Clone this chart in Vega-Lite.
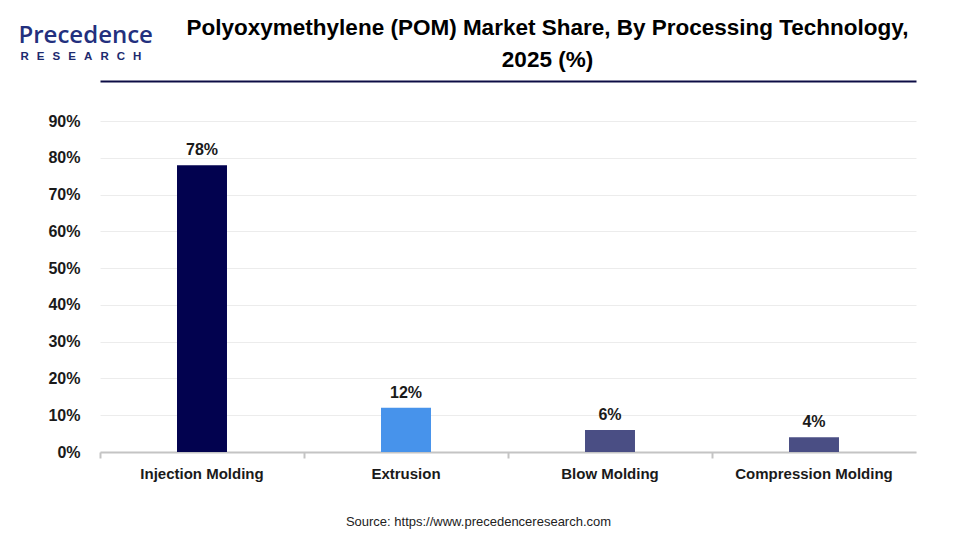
{
  "$schema": "https://vega.github.io/schema/vega-lite/v6.json",
  "width": 816,
  "height": 331,
  "autosize": {"type": "none"},
  "padding": {"left": 100, "top": 121, "right": 44, "bottom": 88},
  "background": "white",
  "config": {
    "view": {"stroke": null},
    "font": "Liberation Sans",
    "text": {"font": "Liberation Sans"}
  },
  "data": {
    "values": [
      {"technology": "Injection Molding", "share": 0.78},
      {"technology": "Extrusion", "share": 0.12},
      {"technology": "Blow Molding", "share": 0.06},
      {"technology": "Compression Molding", "share": 0.04}
    ]
  },
  "layer": [
    {
      "mark": {"type": "bar", "width": {"band": 0.245}},
      "encoding": {
        "x": {
          "field": "technology",
          "type": "nominal",
          "sort": null,
          "scale": {"paddingInner": 0, "paddingOuter": 0},
          "axis": {
            "orient": "bottom",
            "bandPosition": 0,
            "labelAngle": 0,
            "labelFont": "Liberation Sans",
            "labelFontWeight": "bold",
            "labelFontSize": 15,
            "labelColor": "#1a1a1a",
            "labelPadding": 8,
            "labelBaseline": "top",
            "domainColor": "#c4c4c4",
            "domainWidth": 2,
            "tickColor": "#c4c4c4",
            "tickWidth": 2,
            "tickSize": 6,
            "grid": false,
            "title": "Source: https://www.precedenceresearch.com",
            "titleFont": "Liberation Sans",
            "titleFontWeight": "normal",
            "titleFontSize": 13,
            "titleColor": "#222222",
            "titleAlign": "center",
            "titleBaseline": "middle",
            "titleX": 378,
            "titleY": 69
          }
        },
        "y": {
          "field": "share",
          "type": "quantitative",
          "scale": {"domain": [0, 0.9]},
          "axis": {
            "orient": "left",
            "values": [0, 0.1, 0.2, 0.3, 0.4, 0.5, 0.6, 0.7, 0.8, 0.9],
            "format": ".0%",
            "domain": false,
            "ticks": false,
            "grid": true,
            "gridColor": "#ececec",
            "gridWidth": 1,
            "labelFont": "Liberation Sans",
            "labelFontWeight": "bold",
            "labelFontSize": 16,
            "labelColor": "#1a1a1a",
            "labelPadding": 20,
            "title": "Precedence",
            "titleAngle": 0,
            "titleFont": "Open Sans",
            "titleFontWeight": 600,
            "titleFontSize": 24,
            "titleColor": "#23307e",
            "titleAlign": "left",
            "titleBaseline": "alphabetic",
            "titleX": -82,
            "titleY": -79
          }
        },
        "color": {
          "field": "technology",
          "type": "nominal",
          "sort": null,
          "legend": null,
          "scale": {
            "domain": ["Injection Molding", "Extrusion", "Blow Molding", "Compression Molding"],
            "range": ["#02024f", "#4793eb", "#4a4e84", "#4a4e84"]
          }
        }
      }
    },
    {
      "mark": {
        "type": "text",
        "baseline": "alphabetic",
        "align": "center",
        "dy": -10,
        "font": "Liberation Sans",
        "fontWeight": "bold",
        "fontSize": 16,
        "color": "#1a1a1a"
      },
      "encoding": {
        "x": {
          "field": "technology",
          "type": "nominal",
          "sort": null,
          "axis": {
            "orient": "top",
            "offset": 40,
            "labels": false,
            "ticks": false,
            "grid": false,
            "domainColor": "#0c0c45",
            "domainWidth": 2,
            "title": ["Polyoxymethylene (POM) Market Share, By Processing Technology,", "2025 (%)"],
            "titleFont": "Liberation Sans",
            "titleFontWeight": "bold",
            "titleFontSize": 22.5,
            "titleColor": "#000000",
            "titleAlign": "center",
            "titleBaseline": "alphabetic",
            "titleLineHeight": 32,
            "titleX": 447,
            "titleY": -47
          }
        },
        "y": {
          "field": "share",
          "type": "quantitative",
          "axis": {
            "orient": "right",
            "labels": false,
            "ticks": false,
            "domain": false,
            "grid": false,
            "title": "R\u2002\u2009E\u2002\u2009S\u2002\u2009E\u2002\u2009A\u2002\u2009R\u2002\u2009C\u2002\u2009H",
            "titleAngle": 0,
            "titleFont": "Liberation Sans",
            "titleFontWeight": "bold",
            "titleFontSize": 11.5,
            "titleColor": "#1d2a6e",
            "titleAlign": "left",
            "titleBaseline": "alphabetic",
            "titleX": -896,
            "titleY": -62
          }
        },
        "text": {"field": "share", "type": "quantitative", "format": ".0%"}
      }
    }
  ],
  "resolve": {"axis": {"x": "independent", "y": "independent"}}
}
